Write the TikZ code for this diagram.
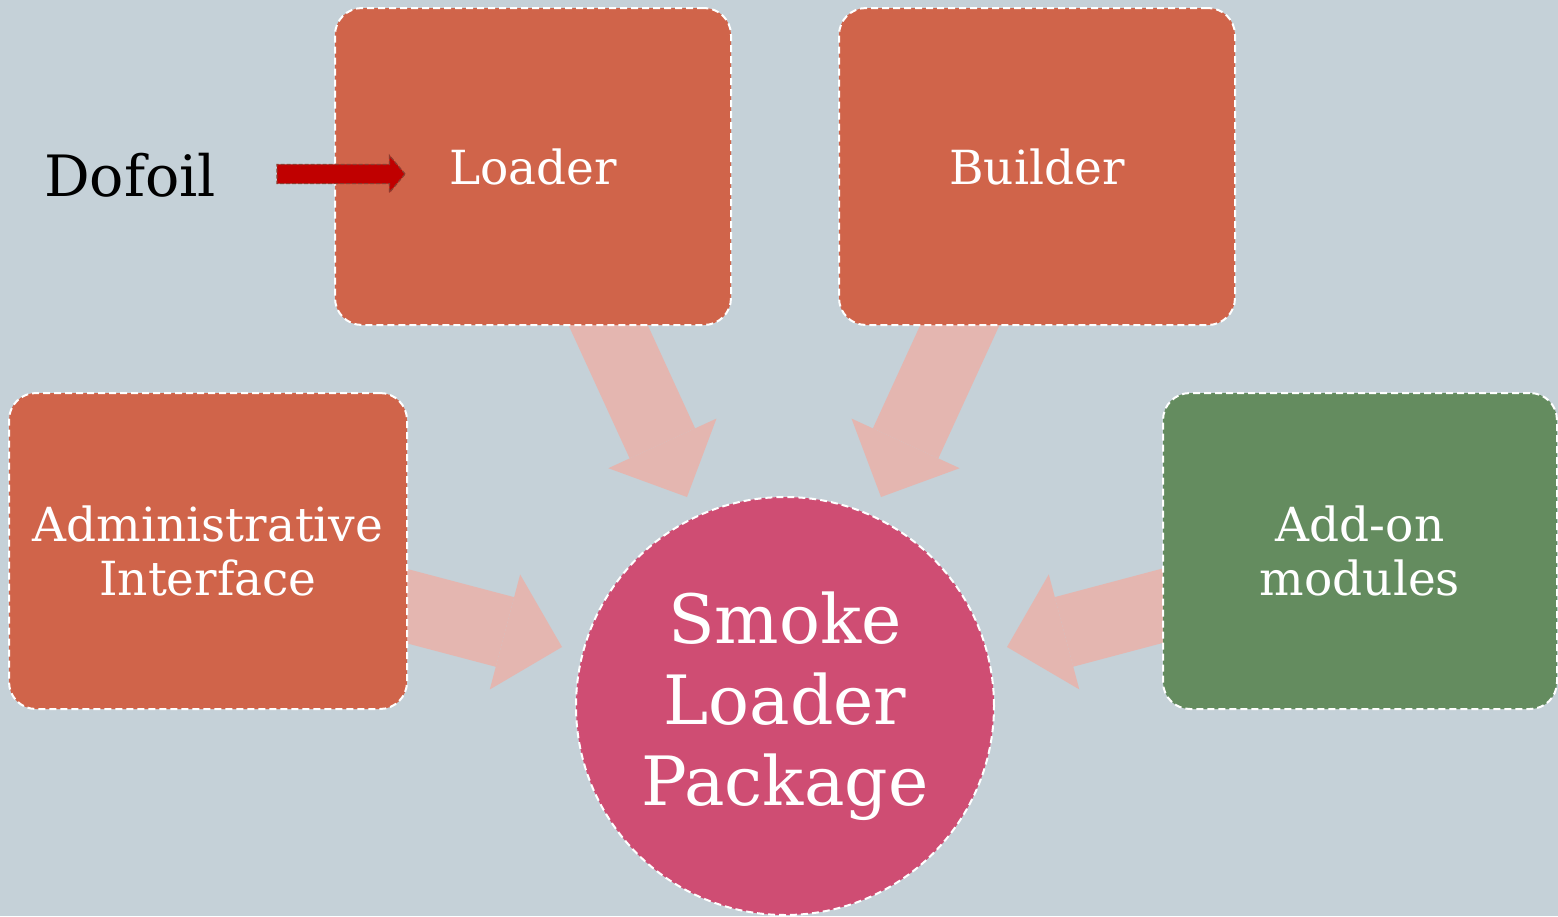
\documentclass[tikz,border=0pt]{standalone}
\usepackage{fontspec}
\setmainfont{DejaVu Serif}
\usetikzlibrary{arrows.meta,shapes.arrows}
\definecolor{bg}{HTML}{C5D1D8}
\definecolor{boxor}{HTML}{D0644A}
\definecolor{boxgr}{HTML}{648C5F}
\definecolor{circpk}{HTML}{CF4D73}
\definecolor{fatc}{HTML}{E4B6B0}
\definecolor{redarr}{HTML}{C00000}
\definecolor{redbd}{HTML}{8E3B2F}
\tikzset{
  boxnode/.style={rectangle, rounded corners=27pt, draw=white, dash pattern=on 7pt off 4pt,
    line width=2pt, text=white, align=center, inner sep=0pt,
    font=\fontsize{47}{54}\selectfont},
  fatarrow/.style={draw=fatc, line width=72pt,
    -{Triangle[width=119pt,length=59pt,line width=0pt]}},
}
\begin{document}
\begin{tikzpicture}[x=1pt,y=-1pt]
\fill[bg] (0,0) rectangle (1558,916);
\useasboundingbox (0,0) rectangle (1558,916);

% fat arrow coordinates
\coordinate (s1) at (592,290);  \coordinate (t1) at (687,497);
\coordinate (s2) at (976,290);  \coordinate (t2) at (881,497);
\coordinate (s3) at (380,599);  \coordinate (t3) at (562,647);
\coordinate (s4) at (1188,599); \coordinate (t4) at (1007,647);

\draw[fatarrow] (s1) -- (t1);
\draw[fatarrow] (s2) -- (t2);
\draw[fatarrow] (s3) -- (t3);
\draw[fatarrow] (s4) -- (t4);

\node[boxnode, fill=boxor, minimum width=396pt, minimum height=317pt] (loader) at (533,166.5) {Loader};
\node[boxnode, fill=boxor, minimum width=396pt, minimum height=317pt] (builder) at (1037,166.5) {Builder};
\node[boxnode, fill=boxor, minimum width=398pt, minimum height=316pt] (admin) at (208,551) {Administrative\\Interface};
\node[boxnode, fill=boxgr, minimum width=394pt, minimum height=316pt] (addon) at (1360,551) {Add-on\\modules};
\node[circle, fill=circpk, draw=white, dash pattern=on 7pt off 4pt, line width=2pt,
  minimum size=418pt, inner sep=0pt, text=white, align=center,
  font=\fontsize{68}{81}\selectfont] (pkg) at (785,706) {Smoke\\Loader\\Package};

\node[font=\fontsize{57}{60}\selectfont, text=black, inner sep=0pt] (dofoil) at (130,175) {Dofoil};
\node[single arrow, fill=redarr, draw=redbd, dash pattern=on 4pt off 2pt, line width=1.2pt,
  minimum height=128pt, inner xsep=0pt, inner ysep=9pt, single arrow head extend=9pt,
  single arrow tip angle=100] (darr) at (337,174) {};
\end{tikzpicture}
\end{document}
